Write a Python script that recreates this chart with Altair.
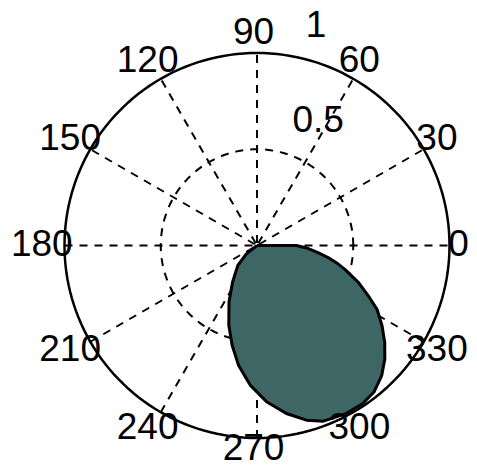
import altair as alt
import pandas as pd

# ---- data ----
# boundary of the filled region: angle (degrees) and radius, in drawing order
shape_theta = [0, 360, 357.2, 353.2, 350.3, 347.8, 344.7, 339.9, 335.6, 332.0, 327.3,
               322.8, 318.4, 313.8, 308.6, 303.7, 297.9, 290.5, 285.8, 279.9, 273.5,
               267.2, 261.2, 256.0, 250.5, 243.6, 236.2, 226.2, 218.4, 0]
shape_r = [0, 0.205, 0.258, 0.322, 0.377, 0.422, 0.475, 0.562, 0.636, 0.706, 0.772,
           0.833, 0.888, 0.936, 0.974, 0.988, 0.988, 0.975, 0.943, 0.886, 0.813,
           0.726, 0.629, 0.534, 0.439, 0.327, 0.228, 0.144, 0.072, 0]

angle_ticks = [0, 30, 60, 90, 120, 150, 180, 210, 240, 270, 300, 330]
angle_labels = ["0", "30", "60", "90", "120", "150", "180", "210", "240", "270", "300", "330"]
radial_ticks = [0.5, 1.0]
radial_labels = ["0.5", "1"]
spoke_angles = [0, 30, 60, 90, 120, 150]

FILL = "#3d6664"
FONT = "Liberation Sans"
FSIZE = 37

# ---- tables ----
shape_df = pd.DataFrame({"a": shape_theta, "r": shape_r, "i": range(len(shape_r))})

circ_deg = list(range(0, 361, 2))
circ_rows = []
for rr in radial_ticks:
    for k, d in enumerate(circ_deg):
        circ_rows.append({"a": d, "r": rr, "i": k, "ring": rr})
circ_df = pd.DataFrame(circ_rows)

spoke_rows = []
for s in spoke_angles:
    spoke_rows.append({"a": s, "r": -1.0, "i": 0, "spoke": s})
    spoke_rows.append({"a": s, "r": 1.0, "i": 1, "spoke": s})
spoke_df = pd.DataFrame(spoke_rows)

alab_df = pd.DataFrame({"a": angle_ticks, "t": angle_labels})
rlab_df = pd.DataFrame({"r": radial_ticks, "t": radial_labels})

XDOM = [-1.29351, 1.10130]
YDOM = [-1.13506, 1.23377]
X = alt.X("x:Q", scale=alt.Scale(domain=XDOM, nice=False, zero=False), axis=None)
Y = alt.Y("y:Q", scale=alt.Scale(domain=YDOM, nice=False, zero=False), axis=None)


def polar(ch, rexpr="datum.r"):
    return ch.transform_calculate(
        x=f"{rexpr}*cos(datum.a*PI/180)", y=f"{rexpr}*sin(datum.a*PI/180)"
    )


spokes = polar(alt.Chart(spoke_df)).mark_line(
    color="black", strokeWidth=2, strokeDash=[8, 7]
).encode(x=X, y=Y, detail="spoke:N", order="i:Q")

inner = polar(alt.Chart(circ_df)).transform_filter("datum.ring < 1").mark_line(
    color="black", strokeWidth=2, strokeDash=[8, 7]
).encode(x=X, y=Y, order="i:Q")

outer = polar(alt.Chart(circ_df)).transform_filter("datum.ring >= 1").mark_line(
    color="black", strokeWidth=2.5
).encode(x=X, y=Y, order="i:Q")

shape = polar(alt.Chart(shape_df)).mark_line(
    fill=FILL, stroke="black", strokeWidth=3, strokeJoin="round", interpolate="linear"
).encode(x=X, y=Y, order="i:Q")

# labels at the page edges are nudged inward slightly so they stay visible
alabels = alt.Chart(alab_df).transform_calculate(
    x="1.1*cos(datum.a*PI/180) - (datum.a == 0 ? 0.035 : 0)",
    y="1.1*sin(datum.a*PI/180) + (datum.a == 270 ? 0.04 : 0)",
).mark_text(
    font=FONT, fontSize=FSIZE, color="black", align="center", baseline="middle", dx=-3.5, dy=-1
).encode(x=X, y=Y, text="t:N")

rlabels = alt.Chart(rlab_df).transform_calculate(
    x="datum.r*cos(82*PI/180)", y="datum.r*sin(82*PI/180)"
).mark_text(
    font=FONT, fontSize=FSIZE, color="black", align="left", baseline="middle", dx=22, dy=-29
).encode(x=X, y=Y, text="t:N")

chart = alt.layer(spokes, inner, outer, shape, alabels, rlabels).properties(
    width=461, height=456, autosize=alt.AutoSizeParams(type="none"), padding=0
).configure_view(stroke=None)

chart.save("out.html", embed_options={"renderer": "svg", "actions": False})
